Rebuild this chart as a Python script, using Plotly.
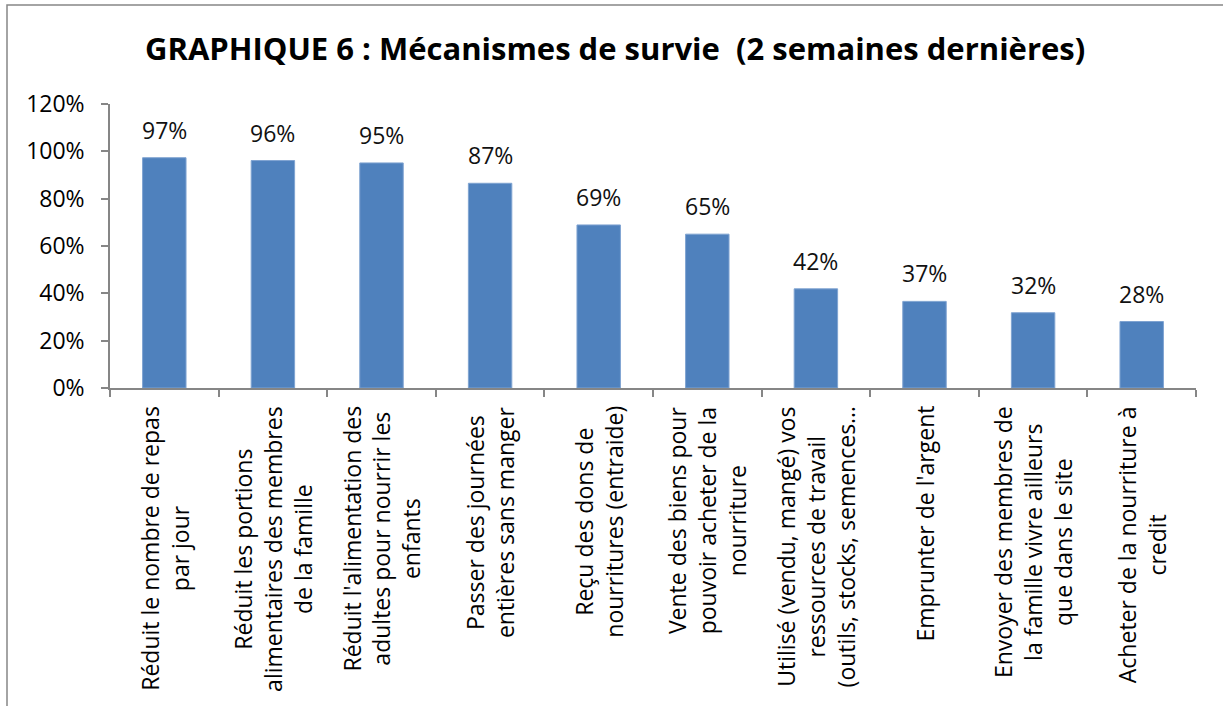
import plotly.graph_objects as go

categories = [
    "Réduit le nombre de repas par jour",
    "Réduit les portions alimentaires des membres de la famille",
    "Réduit l'alimentation des adultes pour nourrir les enfants",
    "Passer des journées entières sans manger",
    "Reçu des dons de nourritures (entraide)",
    "Vente des biens pour pouvoir acheter de la nourriture",
    "Utilisé (vendu, mangé) vos ressources de travail (outils, stocks, semences…",
    "Emprunter de l'argent",
    "Envoyer des membres de la famille vivre ailleurs que dans le site",
    "Acheter de la nourriture à credit",
]
label_lines = [
    "Réduit le nombre de repas<br>par jour",
    "Réduit les portions<br>alimentaires des membres<br>de la famille",
    "Réduit l'alimentation des<br>adultes pour nourrir les<br>enfants",
    "Passer des journées<br>entières sans manger",
    "Reçu des dons de<br>nourritures (entraide)",
    "Vente des biens pour<br>pouvoir acheter de la<br>nourriture",
    "Utilisé (vendu, mangé) vos<br>ressources de travail<br>(outils, stocks, semences…",
    "Emprunter de l'argent",
    "Envoyer des membres de<br>la famille vivre ailleurs<br>que dans le site",
    "Acheter de la nourriture à<br>credit",
]
values = [0.973, 0.961, 0.951, 0.865, 0.689, 0.650, 0.419, 0.366, 0.318, 0.281]
value_labels = ["97%", "96%", "95%", "87%", "69%", "65%", "42%", "37%", "32%", "28%"]
y_ticks = [0, 0.2, 0.4, 0.6, 0.8, 1.0, 1.2]
y_tick_labels = ["0%", "20%", "40%", "60%", "80%", "100%", "120%"]
title = "GRAPHIQUE 6 : Mécanismes de survie \u00a0(2 semaines dernières)"

FONT = "Open Sans"
AXIS = "#868686"

# plot area geometry in pixels (for paper-coordinate decorations)
L, R, T, B = 110, 27, 104, 318
W, H = 1223, 706
PW, PH = W - L - R, H - T - B

fig = go.Figure()
fig.add_trace(go.Bar(
    x=categories, y=values,
    marker=dict(color="#4F81BD", line=dict(color="#7FA3D1", width=1)),
    width=0.4,
    hoverinfo="x+y",
))

annotations = []
for c, v, t in zip(categories, values, value_labels):
    annotations.append(dict(x=c, y=v, xref="x", yref="y", text=t,
                            showarrow=False, yanchor="bottom", yshift=10,
                            font=dict(family=FONT, size=23, color="#111111")))
for c, t in zip(categories, label_lines):
    annotations.append(dict(x=c, y=0, xref="x", yref="y", text=t,
                            showarrow=False, textangle=-90, yanchor="top",
                            xanchor="center", align="center", yshift=-16,
                            font=dict(family=FONT, size=23, color="#000000")))
annotations.append(dict(x=(615 - L) / PW, y=(H - B - 48) / PH, xref="paper", yref="paper",
                        text="<b>" + title + "</b>",
                        showarrow=False, yanchor="middle", xanchor="center",
                        font=dict(family=FONT, size=31, color="#000000")))

fig.update_layout(
    width=W, height=H,
    margin=dict(l=L, r=R, t=T, b=B, pad=0),
    paper_bgcolor="white", plot_bgcolor="white",
    showlegend=False,
    annotations=annotations,
    font=dict(family=FONT, color="#000000"),
    shapes=[dict(type="rect", xref="paper", yref="paper",
                 x0=(7 - L) / PW, x1=(W + 20 - L) / PW,
                 y0=-(H + 20 - (H - B)) / PH, y1=(H - B - 5) / PH,
                 line=dict(color=AXIS, width=1.5), layer="below")],
)
fig.update_xaxes(
    type="category", showticklabels=False, tickson="boundaries",
    ticks="outside", ticklen=7, tickcolor=AXIS, tickwidth=1.5,
    showline=True, linecolor=AXIS, linewidth=1.5, showgrid=False, zeroline=False,
    range=[-0.5, len(categories) - 0.5],
)
fig.update_yaxes(
    range=[0, 1.2], tickvals=y_ticks, ticktext=y_tick_labels,
    ticks="outside", ticklen=7, tickcolor=AXIS, tickwidth=1.5,
    ticklabelstandoff=12,
    showline=True, linecolor=AXIS, linewidth=1.5, showgrid=False, zeroline=False,
    tickfont=dict(family=FONT, size=23, color="#000000"),
)
fig.write_html("out.html", config={"displayModeBar": False},
               post_script="document.body.style.margin='0px';")
